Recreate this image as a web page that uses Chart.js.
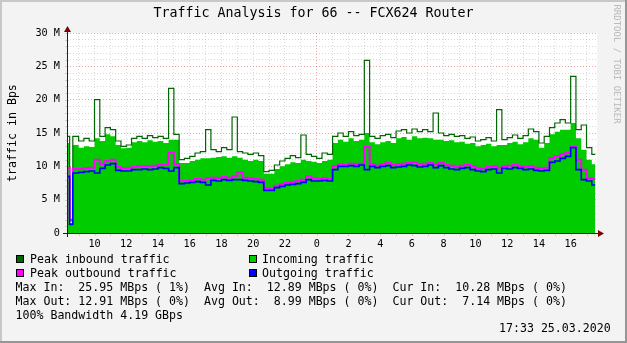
<!DOCTYPE html>
<html>
<head>
<meta charset="utf-8">
<title>Traffic Analysis for 66 -- FCX624 Router</title>
<script src="https://cdn.jsdelivr.net/npm/chart.js@4.4.1/dist/chart.umd.min.js"></script>
<style>
  html, body { margin: 0; padding: 0; background: #f3f3f3; }
  #wrap { position: relative; width: 627px; height: 343px; overflow: hidden;
          font-family: "DejaVu Sans Mono", monospace; color: #000; }
  #wrap canvas { position: absolute; left: 0; top: 0; }
  .txt { position: absolute; white-space: pre; font-size: 11.6px; line-height: 14px; }
  .box { position: absolute; width: 6px; height: 6px; border: 1px solid #000; }
  #title { position: absolute; left: 0; top: 5px; width: 627px; text-align: center;
           font-size: 13.3px; line-height: 16px; white-space: pre; }
  #ylabel { position: absolute; left: -48px; top: 126px; width: 120px; height: 14px;
            text-align: center; transform: rotate(-90deg); }
  #mark { position: absolute; left: 552px; top: 57px; width: 130px; height: 14px; text-align: center;
          font-size: 9px; line-height: 14px; color: #b8b8b8; transform: rotate(90deg); white-space: pre; }
</style>
</head>
<body>
<div id="wrap">
  <canvas id="trafficChart" width="627" height="343"></canvas>
  <div id="title">Traffic Analysis for 66 -- FCX624 Router</div>
  <div id="ylabel" class="txt">traffic in Bps</div>
  <div id="mark">RRDTOOL / TOBI OETIKER</div>

  <div class="box" style="left:16px;top:255px;background:#006600"></div>
  <div class="txt" style="left:30px;top:252px">Peak inbound traffic</div>
  <div class="box" style="left:249px;top:255px;background:#00cc00"></div>
  <div class="txt" style="left:262px;top:252px">Incoming traffic</div>
  <div class="box" style="left:16px;top:269px;background:#ff00ff"></div>
  <div class="txt" style="left:30px;top:266px">Peak outbound traffic</div>
  <div class="box" style="left:249px;top:269px;background:#0000ff"></div>
  <div class="txt" style="left:262px;top:266px">Outgoing traffic</div>

  <div class="txt" style="left:15.5px;top:280px">Max In:  25.95 MBps ( 1%)  Avg In:  12.89 MBps ( 0%)  Cur In:  10.28 MBps ( 0%)</div>
  <div class="txt" style="left:15.5px;top:294px">Max Out: 12.91 MBps ( 0%)  Avg Out:  8.99 MBps ( 0%)  Cur Out:  7.14 MBps ( 0%)</div>
  <div class="txt" style="left:15.5px;top:308px">100% Bandwidth 4.19 GBps</div>
  <div class="txt" style="left:499px;top:321px">17:33 25.03.2020</div>
</div>
<script>
// sample end times (24.03 -> 25.03), values in M (bytes/s)
const sampleTimes = [
  '08:16','08:26','08:38','09:00','09:20','09:40','10:00','10:20','10:40','11:00',
  '11:20','11:40','12:00','12:20','12:40','13:00','13:20','13:40','14:00','14:20',
  '14:40','15:00','15:20','15:40','16:00','16:20','16:40','17:00','17:20','17:40',
  '18:00','18:20','18:40','19:00','19:20','19:40','20:00','20:20','20:40','21:00',
  '21:20','21:40','22:00','22:20','22:40','23:00','23:20','23:40','00:00','00:20',
  '00:40','01:00','01:20','01:40','02:00','02:20','02:40','03:00','03:20','03:40',
  '04:00','04:20','04:40','05:00','05:20','05:40','06:00','06:20','06:40','07:00',
  '07:20','07:40','08:00','08:20','08:40','09:00','09:20','09:40','10:00','10:20',
  '10:40','11:00','11:20','11:40','12:00','12:20','12:40','13:00','13:20','13:40',
  '14:00','14:20','14:40','15:00','15:20','15:40','16:00','16:20','16:40','17:00',
  '17:20','17:33'
];
const peakInbound = [
  13, 14.5, 1.8, 14.5, 13.8, 14.2, 13.8, 20, 14.5, 15.8,
  15.5, 13.8, 13, 13.2, 14.2, 14.5, 14.2, 14.6, 14.3, 14.5,
  14.2, 21.7, 14.8, 11, 11.2, 11.5, 12, 12.2, 15.5, 12.5,
  12.2, 12.8, 12.5, 17.4, 12.2, 12, 11.8, 12, 11.6, 9.2,
  9.4, 10.2, 10.8, 11.2, 11.6, 11.3, 14.7, 11.8, 11.5, 11.2,
  12, 11.8, 14.5, 15, 14.5, 15.2, 14.6, 14.8, 25.9, 14.5,
  14.2, 14.6, 14.8, 14.3, 15.3, 15.5, 15, 15.6, 15.2, 15.5,
  15.2, 18, 15, 14.6, 14.8, 14.5, 14.6, 14.2, 14.4, 13.8,
  14, 14.3, 13.8, 18.5, 14, 14.3, 14.7, 14.2, 14.6, 15.6,
  15.2, 13.5, 14.5, 15.8, 16.5, 17, 16.5, 23.5, 15.5, 16.2,
  12.8, 11.8
];
const incoming = [
  12, 13.5, 1.5, 13.2, 12.8, 13, 12.9, 14.2, 13.8, 14.8,
  14.5, 13.2, 12.7, 12.8, 13.6, 13.8, 13.6, 13.9, 13.7, 13.8,
  13.5, 14, 14, 10.5, 10.5, 10.8, 11, 11.2, 11.2, 11.3,
  11.4, 11.5, 11.3, 11.5, 11.3, 11, 10.8, 11, 10.8, 8.9,
  8.9, 9.6, 10, 10.3, 10.6, 10.5, 11, 10.8, 10.7, 10.5,
  10.8, 11, 13.5, 14, 13.7, 14.2, 13.8, 14, 15, 13.6,
  13.3, 13.6, 13.8, 13.5, 14.2, 14.4, 14, 14.5, 14.2, 14.3,
  14.2, 14, 14, 13.8, 13.9, 13.6, 13.7, 13.4, 13.5, 13,
  13.2, 13.4, 13, 13.2, 13.2, 13.5, 13.7, 13.3, 13.6, 14.2,
  14, 12.8, 13.5, 14.8, 15.2, 15.5, 15.5, 16.5, 14.2, 12.5,
  11, 10.3
];
const peakOutbound = [
  9.5, 9.8, 2, 9.6, 9.6, 9.7, 9.8, 11, 10.3, 10.8,
  11, 9.9, 9.7, 9.7, 9.9, 10, 10, 10, 10.1, 10.2,
  10.2, 12, 10.3, 7.8, 7.8, 7.9, 8.1, 8, 8.2, 8.3,
  8.2, 8.4, 8.3, 8.5, 9.1, 8.3, 8.2, 8.1, 8, 6.7,
  6.6, 7.1, 7.3, 7.5, 7.6, 7.8, 8, 8.5, 8.2, 8.1,
  8.2, 8.1, 10, 10.3, 10.2, 10.4, 10.3, 10.4, 12.9, 10.3,
  10.1, 10.3, 10.5, 10.2, 10.3, 10.4, 10.5, 10.6, 10.3, 10.4,
  10.5, 10.3, 10.5, 10.2, 10.1, 9.9, 10.1, 10.2, 10, 9.7,
  9.6, 9.9, 10, 9.8, 10, 10.1, 10.2, 10, 9.9, 10,
  9.8, 9.7, 9.8, 11.2, 11.5, 11.8, 12, 12.9, 11, 9.5,
  8.2, 8.1
];
const outgoing = [
  9, 8.5, 1.3, 9, 9.1, 9.2, 9.3, 9, 9.7, 10.2,
  10.4, 9.4, 9.3, 9.3, 9.5, 9.5, 9.6, 9.5, 9.6, 9.8,
  9.7, 9.3, 9.8, 7.4, 7.5, 7.6, 7.7, 7.6, 7.2, 7.9,
  7.8, 8, 7.9, 8, 8, 7.9, 7.8, 7.7, 7.6, 6.4,
  6.4, 6.8, 7, 7.2, 7.3, 7.4, 7.6, 8, 7.8, 7.8,
  7.9, 7.8, 9.5, 10, 10, 10.1, 10, 10.2, 9.5, 10,
  9.8, 10, 10.1, 9.8, 9.9, 10, 10.2, 10.1, 9.9, 10,
  10.2, 9.8, 10.1, 9.8, 9.6, 9.5, 9.7, 9.8, 9.5, 9.3,
  9.2, 9.5, 9.6, 9, 9.7, 9.6, 9.8, 9.7, 9.5, 9.6,
  9.4, 9.3, 9.4, 10.6, 10.8, 11.2, 11.5, 12.8, 9.5, 8,
  7.8, 7.2
];
const yTickLabels = ['0', '5 M', '10 M', '15 M', '20 M', '25 M', '30 M'];

const GRID = 'rgba(143,143,143,0.34)';
const MGRID = 'rgba(222,80,80,0.5)';
const monoFont = { family: 'DejaVu Sans Mono', size: 10.2 };

// hours relative to midnight of 25.03
function toHours(list) {
  let day = -24, prev = -1;
  return list.map(s => {
    const [h, m] = s.split(':').map(Number);
    const v = h + m / 60;
    if (v < prev) day += 24;
    prev = v;
    return day + v;
  });
}
const xs = toHours(sampleTimes);
const pts = arr => arr.map((v, i) => ({ x: xs[i], y: v }));

const rrdFrame = {
  id: 'rrdFrame',
  beforeDraw(chart) {
    const c = chart.ctx, a = chart.chartArea;
    c.save();
    c.fillStyle = '#f3f3f3';
    c.fillRect(0, 0, chart.width, chart.height);
    c.fillStyle = '#ffffff';
    c.fillRect(a.left, a.top, a.right - a.left, a.bottom - a.top);
    c.restore();
  },
  afterDraw(chart) {
    const c = chart.ctx, a = chart.chartArea;
    const xs = chart.scales.x, ys = chart.scales.y;
    c.save();
    // tick marks
    c.strokeStyle = GRID;
    c.lineWidth = 1;
    c.beginPath();
    for (let h = -15; h <= 17; h++) {
      const px = Math.round(xs.getPixelForValue(h)) + 0.5;
      c.moveTo(px, a.bottom - 2);
      c.lineTo(px, a.bottom + 3);
    }
    for (let v = 1; v <= 30; v++) {
      const py = Math.round(ys.getPixelForValue(v)) + 0.5;
      c.moveTo(a.left - 2, py);
      c.lineTo(a.left + 2, py);
    }
    c.stroke();
    // axes
    c.strokeStyle = '#202020';
    c.beginPath();
    c.moveTo(a.left + 0.5, a.bottom + 4);
    c.lineTo(a.left + 0.5, a.top - 5);
    c.moveTo(a.left - 4, a.bottom + 0.5);
    c.lineTo(a.right + 4, a.bottom + 0.5);
    c.stroke();
    // arrows
    c.fillStyle = '#800000';
    c.beginPath();
    c.moveTo(a.left + 0.5, a.top - 7);
    c.lineTo(a.left - 3, a.top - 1);
    c.lineTo(a.left + 4, a.top - 1);
    c.closePath();
    c.fill();
    c.beginPath();
    c.moveTo(a.right + 7, a.bottom + 0.5);
    c.lineTo(a.right + 1, a.bottom - 3);
    c.lineTo(a.right + 1, a.bottom + 4);
    c.closePath();
    c.fill();
    // 3d frame
    c.fillStyle = '#c8c8c8';
    c.fillRect(0, 0, chart.width, 2);
    c.fillRect(0, 0, 2, chart.height);
    c.fillStyle = '#969696';
    c.fillRect(0, chart.height - 2, chart.width, 2);
    c.fillRect(chart.width - 2, 0, 2, chart.height);
    c.restore();
  }
};

const ctx = document.getElementById('trafficChart').getContext('2d');
const trafficChart = new Chart(ctx, {
  type: 'line',
  data: {
    datasets: [
      { label: 'Outgoing traffic', data: pts(outgoing), borderColor: '#0000ff', borderWidth: 1.6, order: 1 },
      { label: 'Peak outbound traffic', data: pts(peakOutbound), borderColor: '#ff00ff', borderWidth: 2, order: 2 },
      { label: 'Peak inbound traffic', data: pts(peakInbound), borderColor: '#006600', borderWidth: 1.2, order: 3 },
      { label: 'Incoming traffic', data: pts(incoming), borderColor: 'transparent', borderWidth: 0,
        backgroundColor: '#00cc00', fill: 'origin', order: 4 }
    ]
  },
  options: {
    responsive: false,
    animation: false,
    devicePixelRatio: 1,
    layout: { padding: { left: 0, top: 33, right: 30, bottom: 0 } },
    elements: { point: { radius: 0 }, line: { stepped: 'after', tension: 0 } },
    plugins: { legend: { display: false }, tooltip: { enabled: false } },
    scales: {
      x: {
        type: 'linear',
        min: -15.7333,
        max: 17.66,
        afterFit: s => { s.height = 110; },
        border: { display: false, dash: [1, 2] },
        grid: {
          drawTicks: false,
          color: c => (c.tick && c.tick.value === 0) ? MGRID : GRID
        },
        ticks: {
          stepSize: 1,
          autoSkip: false,
          includeBounds: false,
          maxRotation: 0,
          padding: 5,
          color: '#000',
          font: monoFont,
          callback: v => (Number.isInteger(v) && v % 2 === 0) ? String(((v % 24) + 24) % 24) : ''
        }
      },
      y: {
        min: 0,
        max: 30,
        afterFit: s => { s.width = 67; },
        border: { display: false, dash: [1, 2] },
        grid: {
          drawTicks: false,
          color: c => (c.tick && c.tick.value % 5 === 0) ? MGRID : GRID
        },
        ticks: {
          stepSize: 1,
          autoSkip: false,
          padding: 7,
          color: '#000',
          font: monoFont,
          callback: v => v % 5 === 0 ? yTickLabels[v / 5] : ''
        }
      }
    }
  },
  plugins: [rrdFrame]
});
</script>
</body>
</html>
